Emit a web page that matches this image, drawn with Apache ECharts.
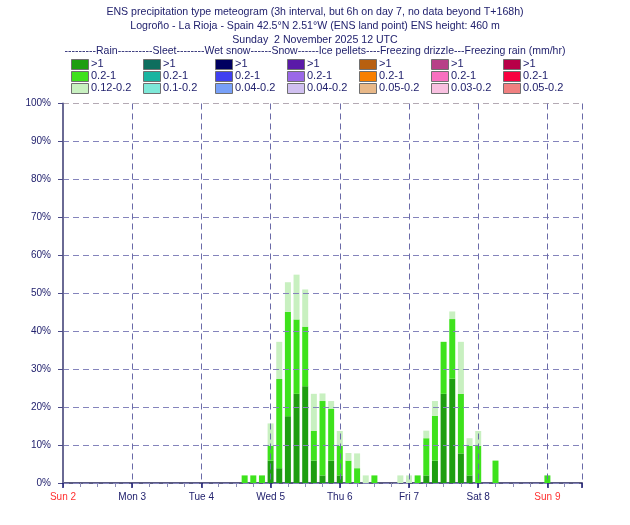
<!DOCTYPE html>
<html>
<head>
<meta charset="utf-8">
<script src="https://cdn.jsdelivr.net/npm/echarts@6/dist/echarts.min.js"></script>
<style>
  html, body { margin: 0; padding: 0; background: #fff; }
  #main { width: 630px; height: 525px; }
</style>
</head>
<body>
<div id="main"></div>
<script>
// hours since Sun 2 Nov 00 UTC (axis runs from Sun 2 12 UTC to Mon 10 00 UTC)
var times = [75, 78, 81, 84, 87, 90, 93, 96, 99, 102, 105, 108, 111, 114, 117, 120,
  129, 132, 135, 138, 141, 144, 147, 150, 153, 156, 162, 180];
// rain probability (%) per intensity class
var rainHeavy = [0, 0, 0, 5.9, 3.9, 17.6, 23.5, 25.5, 5.9, 2.0, 5.9, 2.0, 0, 0, 0, 0,
  0, 0, 0, 2.0, 5.9, 23.5, 27.5, 7.8, 2.0, 0, 0, 0];
var rainModerate = [2.0, 2.0, 2.0, 3.9, 23.5, 27.5, 19.6, 15.7, 7.8, 19.6, 13.7, 7.8, 5.9, 3.9, 0, 2.0,
  0, 0, 2.0, 9.8, 11.8, 13.7, 15.7, 15.7, 7.8, 9.8, 5.9, 2.0];
var rainLight = [0, 0, 0, 5.9, 9.8, 7.8, 11.8, 9.8, 9.8, 2.0, 2.0, 3.9, 2.0, 3.9, 2.0, 0,
  2.0, 2.0, 0, 2.0, 3.9, 0, 2.0, 13.7, 2.0, 3.9, 0, 0];

var dayLabels = ['Sun 2', 'Mon 3', 'Tue 4', 'Wed 5', 'Thu 6', 'Fri 7', 'Sat 8', 'Sun 9'];

var legendTypes = ['Rain', 'Sleet', 'Wet snow', 'Snow', 'Ice pellets', 'Freezing drizzle', 'Freezing rain'];
var legendClasses = [
  ['>1', '0.2-1', '0.12-0.2'],
  ['>1', '0.2-1', '0.1-0.2'],
  ['>1', '0.2-1', '0.04-0.2'],
  ['>1', '0.2-1', '0.04-0.2'],
  ['>1', '0.2-1', '0.05-0.2'],
  ['>1', '0.2-1', '0.03-0.2'],
  ['>1', '0.2-1', '0.05-0.2']
];
var legendColors = [
  ['#1e9e10', '#3ee21c', '#c8f0c0'],
  ['#0e6e5e', '#1ab4a0', '#7ee8d8'],
  ['#000060', '#4040f0', '#78a0f8'],
  ['#5a1aa8', '#9a68e8', '#d0c0f0'],
  ['#b86010', '#f88000', '#e8b888'],
  ['#b84088', '#f870c0', '#f8c0e0'],
  ['#b80048', '#f80040', '#f08080']
];

var navy = '#22226e';
var font = 'Liberation Sans, Arial, sans-serif';

// 3-hourly slots over the whole axis, bars are put into their slot
var slots = [];
for (var h = 12; h <= 192; h += 3) slots.push(h);

function slotData(vals) {
  var out = slots.map(function () { return 0; });
  times.forEach(function (t, i) { out[slots.indexOf(t)] = vals[i]; });
  return out;
}

var chart = echarts.init(document.getElementById('main'), null, { renderer: 'canvas' });

// legend drawn as graphic elements
var header = '---------' + legendTypes[0] + '----------' + legendTypes[1] + '--------' +
  legendTypes[2] + '------' + legendTypes[3] + '------' + legendTypes[4] + '----' +
  legendTypes[5] + '---' + legendTypes[6] + ' (mm/hr)';
var graphics = [{
  type: 'text', left: 'center', top: 46,
  style: { text: header, fill: navy, font: '10.5px ' + font }
}];
legendTypes.forEach(function (t, c) {
  for (var r = 0; r < 3; r++) {
    graphics.push({
      type: 'rect', left: 71 + c * 72, top: 59 + r * 12,
      shape: { width: 17, height: 10 },
      style: { fill: legendColors[c][r], stroke: '#707070', lineWidth: 1 }
    });
    graphics.push({
      type: 'text', left: 91 + c * 72, top: 58 + r * 12,
      style: { text: legendClasses[c][r], fill: navy, font: '11px ' + font }
    });
  }
});

var gridColors = [];
for (var i = 0; i < 10; i++) gridColors.push('#8484bc');
gridColors.push('#b4aab4');

var option = {
  animation: false,
  backgroundColor: '#fff',
  title: {
    text: 'ENS precipitation type meteogram (3h interval, but 6h on day 7, no data beyond T+168h)\n' +
      'Logroño - La Rioja - Spain 42.5°N 2.51°W (ENS land point) ENS height: 460 m\n' +
      'Sunday  2 November 2025 12 UTC',
    left: 'center', top: 0,
    textStyle: { color: navy, fontSize: 10.6, fontWeight: 'normal', fontFamily: font, lineHeight: 14 }
  },
  graphic: graphics,
  grid: { left: 63, right: 48, top: 103.5, bottom: 42 },
  xAxis: [{
    type: 'category', data: slots, boundaryGap: false, position: 'bottom',
    axisLine: { show: true, lineStyle: { color: '#5a5a80', width: 2 } },
    axisTick: { show: true, length: 4, interval: function (i) { return i % 2 === 0; },
      lineStyle: { color: '#8c8cb4' } },
    axisLabel: {
      margin: 9, fontSize: 10, fontFamily: font, color: navy,
      interval: function (i) { return i % 8 === 0 && i < 64; },
      formatter: function (v, i) {
        var s = dayLabels[i / 8];
        if (!s) return '';
        return s.indexOf('Sun') === 0 ? '{sun|' + s + '}' : s;
      },
      rich: { sun: { color: '#ff3030', fontSize: 10, fontFamily: font } }
    },
    splitLine: { show: false }
  }, {
    type: 'value', min: 12, max: 192, interval: 24, position: 'bottom', z: 3,
    axisLine: { show: false },
    axisTick: { show: true, length: 5, lineStyle: { color: '#1a1a70', width: 1.5 } },
    axisLabel: { show: false },
    splitLine: { show: true, lineStyle: { color: '#6a6aa8', type: [6, 4], width: 1 } }
  }],
  yAxis: {
    type: 'value', min: 0, max: 100, interval: 10, z: 3,
    axisLine: { show: true, lineStyle: { color: '#6a6a94', width: 2 } },
    axisTick: { show: true, length: 5, lineStyle: { color: '#4a4a88' } },
    axisLabel: { margin: 12, fontSize: 10, fontFamily: font, color: navy, formatter: '{value}%' },
    splitLine: { show: true, lineStyle: { color: gridColors, type: [6, 4], width: 1 } }
  },
  series: [
    { name: 'Rain >1', type: 'bar', stack: 'rain', barWidth: 6, data: slotData(rainHeavy),
      itemStyle: { color: legendColors[0][0] } },
    { name: 'Rain 0.2-1', type: 'bar', stack: 'rain', barWidth: 6, data: slotData(rainModerate),
      itemStyle: { color: legendColors[0][1] } },
    { name: 'Rain 0.12-0.2', type: 'bar', stack: 'rain', barWidth: 6, data: slotData(rainLight),
      itemStyle: { color: legendColors[0][2] } }
  ]
};

chart.setOption(option);
</script>
</body>
</html>
